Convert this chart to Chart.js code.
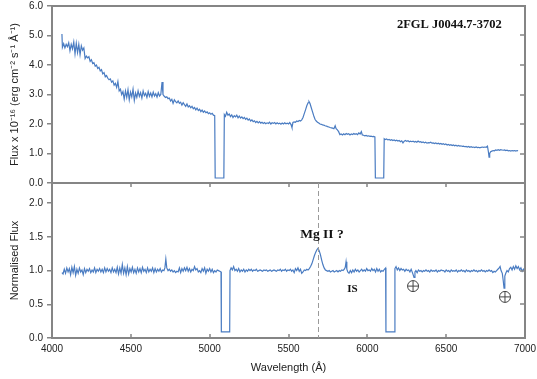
<!DOCTYPE html>
<html>
<head>
<meta charset="utf-8">
<script src="https://cdn.jsdelivr.net/npm/chart.js@4"></script>
<style>
  html, body { margin: 0; padding: 0; background: #fff; }
  #wrap { position: relative; width: 537px; height: 379px; }
  #wrap canvas { position: absolute; left: 0; top: 0; }
</style>
</head>
<body>
<div id="wrap">
  <canvas id="topChart" width="537" height="379"></canvas>
  <canvas id="botChart" width="537" height="379"></canvas>
</div>
<script>
// Top panel: observed flux (x 1e-16 erg cm-2 s-1 A-1)
const topWave = [4063,4066,4074,4082,4090,4098,4106,4114,4122,4130,4138,4146,4154,4162,4170,4178,4186,4194,4202,4210,
  4218,4226,4234,4242,4250,4258,4266,4274,4282,4290,4298,4306,4314,4322,4330,4338,4346,4354,4362,4370,
  4378,4386,4394,4402,4410,4418,4426,4434,4442,4450,4458,4466,4474,4482,4490,4498,4506,4514,4522,4530,
  4538,4546,4554,4562,4570,4578,4586,4594,4602,4610,4618,4626,4634,4642,4650,4658,4666,4674,4682,4690,
  4698,4704,4712,4720,4728,4736,4744,4752,4760,4768,4776,4784,4792,4800,4808,4816,4824,4832,4840,4848,
  4856,4864,4872,4880,4888,4896,4904,4912,4920,4928,4936,4944,4952,4960,4968,4976,4984,4992,5000,5008,
  5016,5024,5032,5035,5090,5093,5100,5108,5116,5124,5132,5140,5148,5156,5164,5172,5180,5188,5196,5204,
  5212,5220,5228,5236,5244,5252,5260,5268,5276,5284,5292,5300,5308,5316,5324,5332,5340,5348,5356,5364,
  5372,5380,5388,5396,5404,5412,5420,5428,5436,5444,5452,5460,5468,5476,5484,5492,5500,5508,5516,5522,
  5528,5536,5544,5552,5560,5568,5576,5584,5592,5600,5608,5616,5624,5630,5636,5644,5652,5660,5668,5676,
  5684,5692,5700,5708,5716,5724,5732,5740,5748,5756,5764,5772,5780,5788,5796,5802,5810,5818,5826,5834,
  5842,5850,5858,5866,5874,5882,5890,5898,5906,5914,5922,5930,5938,5946,5954,5962,5968,5976,5984,5992,
  6000,6008,6016,6024,6032,6040,6048,6051,6104,6107,6114,6122,6130,6138,6146,6154,6162,6170,6178,6186,
  6194,6202,6210,6218,6226,6234,6242,6250,6258,6266,6274,6282,6290,6298,6306,6314,6322,6330,6338,6346,
  6354,6362,6370,6378,6386,6394,6402,6410,6418,6426,6434,6442,6450,6458,6466,6474,6482,6490,6498,6506,
  6514,6522,6530,6538,6546,6554,6562,6570,6578,6586,6594,6602,6610,6618,6626,6634,6642,6650,6658,6666,
  6674,6682,6690,6698,6706,6714,6722,6730,6738,6746,6754,6762,6768,6772,6776,6782,6790,6798,6806,6814,
  6822,6830,6838,6846,6854,6862,6870,6878,6886,6894,6902,6910,6918,6926,6934,6942,6950,6956];
const topFlux = [5.05,4.60,4.72,4.58,4.70,4.62,4.75,4.48,4.70,4.55,4.78,4.38,4.74,4.42,4.70,4.35,4.65,4.50,4.58,4.22,
  4.30,4.24,4.28,4.12,4.18,4.05,4.08,3.96,4.00,3.88,3.92,3.80,3.84,3.70,3.74,3.60,3.64,3.55,3.50,3.53,
  3.42,3.46,3.32,3.38,3.24,3.44,3.12,3.18,3.00,3.10,2.84,3.12,2.90,3.16,2.82,3.08,2.92,3.18,2.80,3.05,
  2.90,3.12,2.94,3.06,2.88,3.12,2.96,3.04,2.90,3.10,2.94,3.05,2.92,3.08,2.95,3.03,2.91,3.06,2.95,3.00,
  3.42,3.00,2.94,2.90,2.92,2.86,2.88,2.78,2.84,2.70,2.82,2.76,2.72,2.78,2.70,2.74,2.64,2.72,2.66,2.60,
  2.68,2.58,2.62,2.55,2.60,2.52,2.56,2.48,2.54,2.46,2.50,2.42,2.47,2.40,2.44,2.38,2.41,2.35,2.38,2.33,
  2.36,2.30,2.28,0.17,0.17,2.32,2.26,2.40,2.30,2.34,2.25,2.31,2.22,2.28,2.24,2.30,2.21,2.27,2.20,2.24,
  2.18,2.22,2.16,2.20,2.13,2.17,2.10,2.14,2.08,2.11,2.05,2.09,2.04,2.08,2.03,2.06,2.02,2.05,2.01,2.04,
  2.02,2.06,2.00,2.04,2.02,2.05,2.00,2.04,2.01,2.03,1.99,2.03,2.00,2.04,2.01,2.03,2.00,2.05,1.98,1.88,
  2.05,2.07,2.06,2.10,2.08,2.12,2.10,2.14,2.22,2.35,2.48,2.62,2.72,2.76,2.70,2.56,2.42,2.28,2.16,2.10,
  2.06,2.03,2.00,1.99,1.97,1.96,1.94,1.93,1.91,1.90,1.88,1.87,1.86,1.84,1.94,1.84,1.80,1.74,1.64,1.66,
  1.63,1.67,1.64,1.68,1.65,1.67,1.63,1.66,1.64,1.68,1.65,1.67,1.64,1.70,1.66,1.74,1.63,1.62,1.60,1.61,
  1.59,1.60,1.58,1.59,1.57,1.58,1.56,0.17,0.17,1.50,1.47,1.49,1.46,1.48,1.45,1.47,1.44,1.46,1.43,1.45,
  1.42,1.44,1.40,1.43,1.36,1.42,1.44,1.41,1.43,1.40,1.42,1.40,1.42,1.39,1.41,1.38,1.42,1.39,1.40,1.37,
  1.39,1.36,1.38,1.35,1.37,1.36,1.38,1.35,1.36,1.34,1.36,1.33,1.35,1.32,1.34,1.31,1.33,1.30,1.32,1.29,
  1.31,1.28,1.30,1.27,1.29,1.26,1.28,1.25,1.27,1.25,1.26,1.24,1.25,1.23,1.24,1.22,1.24,1.21,1.23,1.21,
  1.22,1.20,1.22,1.20,1.21,1.19,1.21,1.22,1.21,1.22,1.21,1.25,1.05,0.88,1.00,1.06,1.08,1.10,1.09,1.12,
  1.11,1.13,1.11,1.13,1.12,1.11,1.12,1.10,1.11,1.09,1.10,1.08,1.10,1.09,1.10,1.08,1.10,1.09];

// Bottom panel: normalised flux
const botWave = [4063,4070,4078,4086,4094,4102,4110,4118,4126,4134,4142,4150,4158,4166,4174,4182,4190,4198,4206,4214,
  4222,4230,4238,4246,4254,4262,4270,4278,4286,4294,4302,4310,4318,4326,4334,4342,4350,4358,4366,4374,
  4382,4390,4398,4406,4414,4422,4430,4438,4446,4454,4462,4470,4478,4486,4494,4502,4510,4518,4526,4534,
  4542,4550,4558,4566,4574,4582,4590,4598,4606,4614,4622,4630,4638,4646,4654,4662,4670,4678,4686,4694,
  4702,4710,4716,4722,4728,4736,4744,4752,4760,4768,4776,4784,4792,4800,4808,4816,4824,4832,4840,4848,
  4856,4864,4872,4880,4888,4896,4904,4912,4920,4928,4936,4944,4952,4960,4968,4976,4984,4992,5000,5008,
  5016,5024,5032,5040,5048,5056,5064,5072,5074,5127,5129,5136,5144,5152,5160,5168,5176,5184,5192,5200,
  5208,5216,5224,5232,5240,5248,5256,5264,5272,5280,5288,5296,5304,5312,5320,5328,5336,5344,5352,5360,
  5368,5376,5384,5392,5400,5408,5416,5424,5432,5440,5448,5456,5464,5472,5480,5488,5496,5504,5512,5520,
  5528,5536,5544,5552,5560,5568,5576,5584,5592,5600,5608,5616,5624,5632,5640,5648,5656,5664,5672,5680,
  5687,5694,5702,5710,5718,5726,5734,5742,5750,5758,5766,5774,5782,5790,5798,5806,5814,5822,5830,5838,
  5846,5854,5860,5865,5870,5876,5884,5892,5900,5908,5916,5924,5932,5940,5948,5956,5964,5972,5980,5988,
  5996,6004,6012,6020,6028,6036,6044,6052,6060,6068,6076,6084,6092,6100,6108,6116,6118,6173,6175,6182,
  6190,6198,6206,6214,6222,6230,6238,6246,6254,6262,6270,6278,6286,6292,6296,6302,6308,6316,6324,6332,
  6340,6348,6356,6364,6372,6380,6388,6396,6404,6412,6420,6428,6436,6444,6452,6460,6468,6476,6484,6492,
  6500,6508,6516,6524,6532,6540,6548,6556,6564,6572,6580,6588,6596,6604,6612,6620,6628,6636,6644,6652,
  6660,6668,6676,6684,6692,6700,6708,6716,6724,6732,6740,6748,6756,6764,6772,6780,6788,6796,6804,6812,
  6820,6828,6836,6842,6848,6856,6862,6867,6872,6878,6886,6894,6902,6910,6918,6926,6934,6942,6950,6958,
  6966,6974,6982,6990,7000];
const botFlux = [0.97,0.95,1.02,0.96,1.04,0.98,1.03,0.94,1.05,0.97,1.06,0.93,1.02,0.96,1.04,0.98,1.01,0.94,1.03,0.97,
  1.02,0.99,1.03,0.97,1.01,0.98,1.04,0.97,1.02,0.99,1.03,0.98,1.02,0.97,1.04,0.98,1.03,0.99,1.02,0.97,
  1.04,0.98,1.02,0.97,1.05,0.95,1.04,0.96,1.09,0.96,1.04,0.94,1.06,0.95,1.03,0.98,1.05,0.97,1.02,0.96,
  1.04,0.98,1.03,0.97,1.05,0.99,1.02,0.97,1.04,0.98,1.02,0.99,1.04,0.97,1.03,0.98,1.02,0.99,1.03,0.98,
  1.01,1.00,1.04,1.17,1.04,1.00,1.02,0.99,1.01,0.98,1.00,0.97,0.99,0.98,1.04,0.97,1.03,0.99,1.04,1.00,
  1.05,0.99,1.03,0.98,1.02,1.00,1.06,1.01,1.03,0.98,1.00,0.97,1.03,0.99,1.04,0.96,1.02,0.99,1.03,0.98,
  1.02,0.97,1.00,0.98,1.01,1.00,0.99,0.98,0.09,0.09,1.00,1.04,1.01,1.06,1.00,1.02,0.99,1.03,0.98,1.01,
  0.99,1.02,0.98,1.01,0.99,1.02,1.00,1.02,0.99,1.01,1.00,1.02,0.99,1.00,1.01,1.00,0.99,1.01,1.00,1.01,
  0.99,1.00,1.01,0.99,1.00,1.01,1.00,0.99,1.01,1.00,1.02,0.99,1.01,1.00,1.02,0.99,1.01,1.00,1.02,0.99,
  1.01,0.97,1.03,1.00,1.04,0.99,1.02,0.96,0.98,1.01,1.00,1.02,1.01,1.03,1.06,1.10,1.16,1.22,1.27,1.31,
  1.33,1.30,1.24,1.16,1.09,1.04,1.01,1.00,0.99,1.00,0.98,0.99,1.00,0.98,0.99,1.00,0.98,1.00,0.99,1.01,
  1.00,1.02,1.05,1.13,1.02,0.98,0.96,1.00,0.97,1.01,0.98,1.02,0.99,1.01,0.98,1.00,1.02,0.99,1.01,0.99,
  1.03,1.00,1.01,0.99,1.03,1.00,1.02,0.98,1.03,0.99,1.02,0.98,1.00,0.99,1.02,1.04,0.09,0.09,1.03,1.06,
  1.01,1.04,1.00,1.03,1.01,1.02,0.99,1.02,1.00,1.01,0.98,1.02,0.97,0.93,0.90,0.98,1.00,0.97,1.01,0.99,
  1.00,0.98,1.00,0.99,1.01,0.99,1.00,0.98,1.01,0.99,1.00,0.99,1.01,0.98,1.00,0.99,1.01,1.00,1.00,0.98,
  1.01,0.99,1.00,0.98,1.01,0.99,1.00,0.99,1.01,0.98,1.00,0.99,1.01,0.99,1.00,0.98,1.01,0.99,1.00,0.98,
  1.00,0.99,1.01,0.99,1.00,0.98,1.00,0.99,1.01,0.99,1.00,0.98,1.00,0.99,1.01,0.99,1.00,0.97,0.99,0.98,
  1.00,1.02,1.04,1.06,1.00,0.96,0.85,0.74,0.92,0.96,1.00,0.98,1.03,1.05,1.01,1.06,1.02,1.07,1.03,1.06,
  1.01,1.04,0.99,1.02,0.98];

const xTicks = [4000, 4500, 5000, 5500, 6000, 6500, 7000];
const topTicks = [0, 1, 2, 3, 4, 5, 6];
const botTicks = [0, 0.5, 1.0, 1.5, 2.0];

const LINE = '#4a7cc2';
const AXIS = '#858585';
const TEXT = '#222';
const SANS = "'Liberation Sans', Arial, sans-serif";
const SERIF = "'Liberation Serif', 'DejaVu Serif', serif";

// box around the plot area + inward ticks on right / top / bottom
const panelFrame = {
  id: 'panelFrame',
  afterDatasetsDraw(chart, args, opts) {
    const { ctx, chartArea: a, scales } = chart;
    ctx.save();
    ctx.strokeStyle = AXIS;
    ctx.lineWidth = 1.5;
    ctx.beginPath();
    scales.y.ticks.forEach(t => {
      const py = Math.round(scales.y.getPixelForValue(t.value));
      ctx.moveTo(a.right - 5, py);
      ctx.lineTo(a.right, py);
    });
    if (opts.xTicks) {
      scales.x.ticks.forEach(t => {
        const px = Math.round(scales.x.getPixelForValue(t.value));
        ctx.moveTo(px, a.top);
        ctx.lineTo(px, a.top + 4);
        ctx.moveTo(px, a.bottom - 4);
        ctx.lineTo(px, a.bottom);
      });
    }
    ctx.stroke();
    ctx.lineWidth = 2;
    ctx.strokeRect(a.left, a.top, a.right - a.left, a.bottom - a.top);
    ctx.restore();
  }
};

// text labels placed in data coordinates
const notes = {
  id: 'notes',
  afterDatasetsDraw(chart, args, opts) {
    const { ctx, scales: { x, y }, chartArea: a } = chart;
    ctx.save();
    (opts.dashed || []).forEach(w => {
      const px = Math.round(x.getPixelForValue(w)) + 0.5;
      ctx.strokeStyle = '#9a9a9a';
      ctx.lineWidth = 1;
      ctx.setLineDash([5, 3]);
      ctx.beginPath();
      ctx.moveTo(px, a.top);
      ctx.lineTo(px, a.bottom);
      ctx.stroke();
    });
    ctx.setLineDash([]);
    ctx.fillStyle = '#111';
    ctx.textAlign = 'center';
    ctx.textBaseline = 'middle';
    (opts.labels || []).forEach(l => {
      ctx.font = l.font;
      ctx.fillText(l.text, x.getPixelForValue(l.x), y.getPixelForValue(l.y));
    });
    (opts.earth || []).forEach(p => {
      const cx = x.getPixelForValue(p[0]), cy = y.getPixelForValue(p[1]);
      ctx.strokeStyle = '#444';
      ctx.lineWidth = 1;
      ctx.beginPath();
      ctx.arc(cx, cy, 5.5, 0, Math.PI * 2);
      ctx.moveTo(cx - 5.5, cy); ctx.lineTo(cx + 5.5, cy);
      ctx.moveTo(cx, cy - 5.5); ctx.lineTo(cx, cy + 5.5);
      ctx.stroke();
    });
    ctx.restore();
  }
};

function series(w, f) {
  return w.map((v, i) => ({ x: v, y: f[i] }));
}

// pin axis sizes so both panels line up
function pinY(s) {
  s.width = 52;
  s.paddingTop = 0; s.paddingBottom = 0; s.paddingLeft = 0; s.paddingRight = 0;
}
function pinX(s) {
  s.height = 41;
  s.paddingTop = 0; s.paddingBottom = 0; s.paddingLeft = 0; s.paddingRight = 0;
}

const tickFont = { family: SANS, size: 10 };
const titleFont = { family: SANS, size: 11 };

new Chart(document.getElementById('topChart'), {
  type: 'line',
  data: { datasets: [{ data: series(topWave, topFlux), borderColor: LINE, borderWidth: 1.2, pointRadius: 0, tension: 0 }] },
  options: {
    responsive: false, animation: false, events: [],
    layout: { autoPadding: false, padding: { top: 6, right: 12, bottom: 196, left: 0 } },
    plugins: {
      legend: { display: false }, tooltip: { enabled: false },
      panelFrame: { xTicks: false },
      notes: { labels: [{ text: '2FGL J0044.7-3702', x: 6520, y: 5.36, font: `bold 12.5px ${SERIF}` }] }
    },
    scales: {
      x: { type: 'linear', min: 4000, max: 7000, display: false },
      y: {
        min: 0, max: 6,
        afterBuildTicks: s => { s.ticks = topTicks.map(v => ({ value: v })); },
        ticks: { callback: v => v.toFixed(1), font: tickFont, color: TEXT, padding: 4 },
        grid: { drawOnChartArea: false, tickLength: 5, color: AXIS, lineWidth: 1.5 },
        border: { display: false },
        title: { display: true, text: 'Flux x 10\u207B\u00B9\u2076 (erg cm\u207B\u00B2 s\u207B\u00B9 \u00C5\u207B\u00B9)', font: titleFont, color: TEXT, padding: { top: 8, bottom: 4 } },
        afterFit: pinY
      }
    }
  },
  plugins: [panelFrame, notes]
});

new Chart(document.getElementById('botChart'), {
  type: 'line',
  data: { datasets: [{ data: series(botWave, botFlux), borderColor: LINE, borderWidth: 1.2, pointRadius: 0, tension: 0 }] },
  options: {
    responsive: false, animation: false, events: [],
    layout: { autoPadding: false, padding: { top: 183, right: 12, bottom: 0, left: 0 } },
    plugins: {
      legend: { display: false }, tooltip: { enabled: false },
      panelFrame: { xTicks: true },
      notes: {
        dashed: [5690],
        labels: [
          { text: 'Mg II ?', x: 5712, y: 1.53, font: `bold 13.5px ${SERIF}` },
          { text: 'IS', x: 5905, y: 0.73, font: `bold 11px ${SERIF}` }
        ],
        earth: [[6290, 0.77], [6873, 0.61]]
      }
    },
    scales: {
      x: {
        type: 'linear', min: 4000, max: 7000,
        afterBuildTicks: s => { s.ticks = xTicks.map(v => ({ value: v })); },
        ticks: { callback: v => String(v), font: tickFont, color: TEXT, padding: 5, maxRotation: 0 },
        grid: { drawOnChartArea: false, drawTicks: false },
        border: { display: false },
        title: { display: true, text: 'Wavelength (\u00C5)', font: titleFont, color: TEXT, padding: { top: 4, bottom: 4 } },
        afterFit: pinX
      },
      y: {
        min: 0, max: 2.3,
        afterBuildTicks: s => { s.ticks = botTicks.map(v => ({ value: v })); },
        ticks: { callback: v => v.toFixed(1), font: tickFont, color: TEXT, padding: 4 },
        grid: { drawOnChartArea: false, tickLength: 5, color: AXIS, lineWidth: 1.5 },
        border: { display: false },
        title: { display: true, text: 'Normalised Flux', font: titleFont, color: TEXT, padding: { top: 8, bottom: 4 } },
        afterFit: pinY
      }
    }
  },
  plugins: [panelFrame, notes]
});
</script>
</body>
</html>
